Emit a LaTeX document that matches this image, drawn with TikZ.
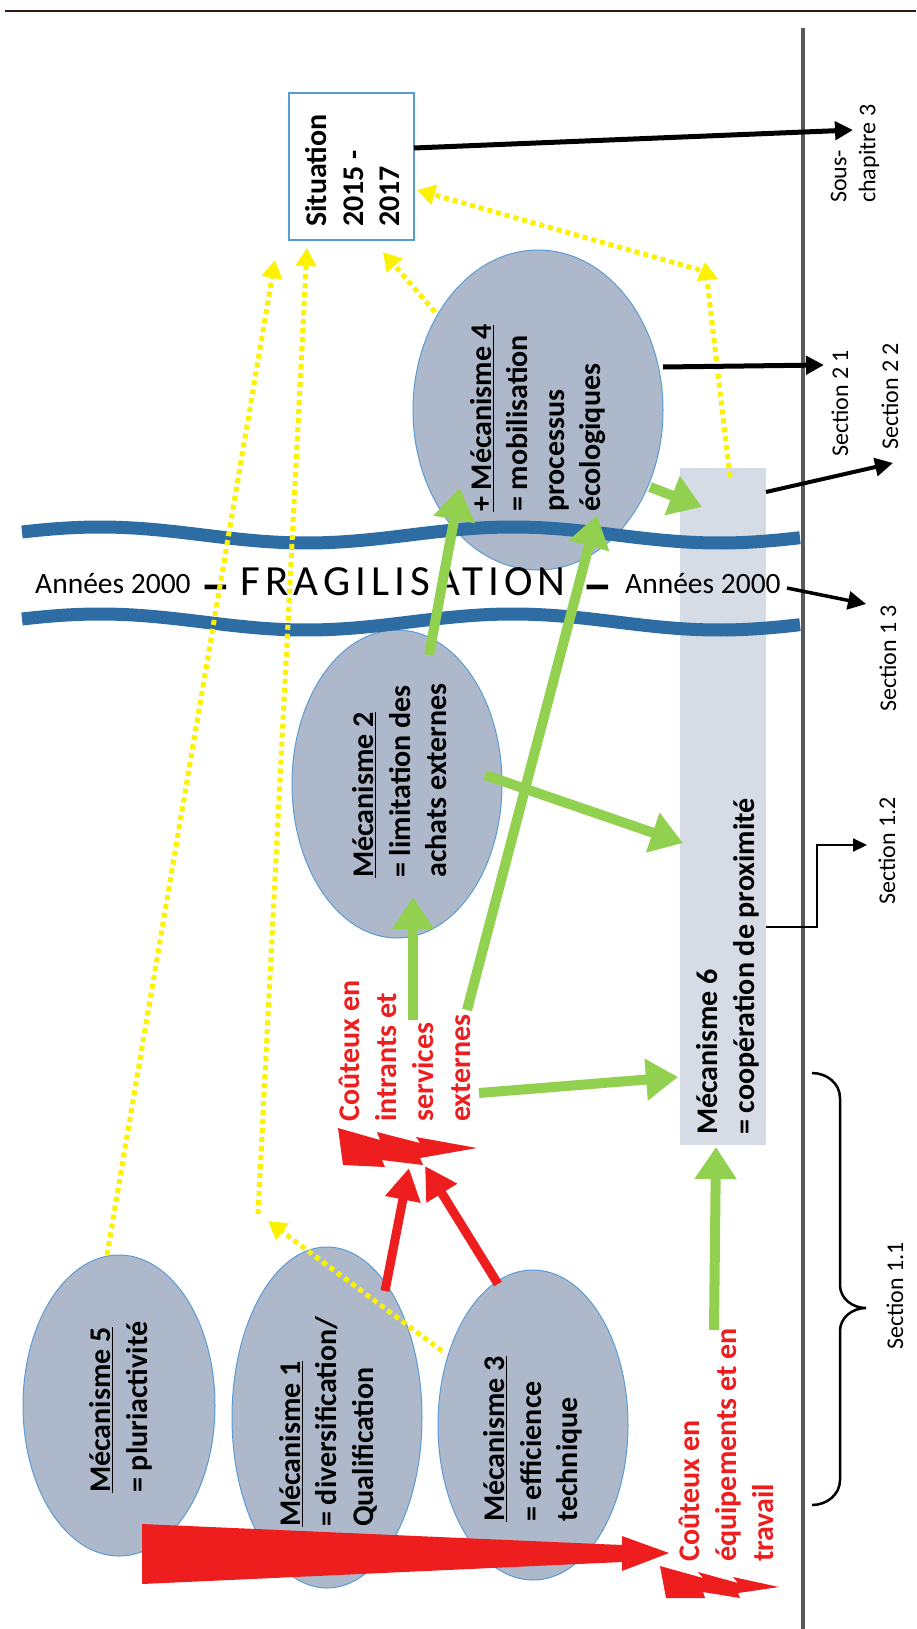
\documentclass[tikz,border=0pt]{standalone}
\usepackage{fontspec}
\setmainfont{Carlito}
\newfontfamily\fragfont[LetterSpace=12]{Carlito}
\usetikzlibrary{arrows.meta,shapes.geometric}
\definecolor{ellfill}{RGB}{173,185,202}
\definecolor{ellline}{RGB}{91,155,213}
\definecolor{boxfill}{RGB}{214,220,229}
\definecolor{wavec}{RGB}{46,108,164}
\definecolor{greenc}{RGB}{146,208,80}
\definecolor{redc}{RGB}{238,30,30}
\definecolor{yellowc}{RGB}{252,242,0}
\definecolor{greyc}{RGB}{89,89,89}
\definecolor{topc}{RGB}{55,22,15}
\begin{document}
\begin{tikzpicture}[x=1pt,y=-1pt,
  ell/.style={ellipse, draw=ellline, line width=1pt, fill=ellfill, inner sep=0pt},
  mtext/.style={rotate=90, anchor=west, align=left, inner sep=0pt, font=\bfseries\fontsize{30}{36.5}\selectfont},
  rtext/.style={rotate=90, anchor=west, align=left, inner sep=0pt, text=redc, font=\bfseries\fontsize{30}{37}\selectfont},
  sectlabel/.style={rotate=90, anchor=west, align=left, inner sep=0pt, font=\fontsize{24}{29}\selectfont},
  htext/.style={anchor=base west, inner sep=0pt, font=\fontsize{29.5}{36}\selectfont},
  garrow/.style={draw=greenc, line width=10pt, -{Triangle[length=32pt,width=40pt]}},
  rarrow/.style={draw=redc, line width=9pt, -{Triangle[length=32pt,width=34pt]}},
  yarrow/.style={draw=yellowc, line width=5pt, dash pattern=on 5pt off 4pt, -{Triangle[length=18pt,width=20pt]}},
  barrow/.style={draw=black, line width=#1, -{Triangle[length=18pt,width=18pt]}},
  wave/.style={draw=wavec, line width=13pt}
]
\useasboundingbox (0,0) rectangle (916,1629);
\fill[white] (0,0) rectangle (916,1629);

% frame lines
\draw[topc, line width=1.6pt] (5,11) -- (916,11);
\draw[greyc, line width=3.5pt] (803,28) -- (803,1629);

% boxes and ellipses
\node[fill=boxfill, minimum width=86pt, minimum height=677pt, inner sep=0pt] (b6) at (723,806.5) {};
\node[draw=ellline, line width=1.2pt, fill=white, minimum width=125pt, minimum height=147pt, inner sep=0pt] (sit) at (351.5,166.5) {};
\node[ell, minimum width=250pt, minimum height=320pt] (e4) at (538,410) {};
\node[ell, minimum width=210pt, minimum height=308pt] (e2) at (397,784) {};
\node[ell, minimum width=192pt, minimum height=301pt] (e5) at (119,1405.5) {};
\node[ell, minimum width=190pt, minimum height=341pt] (e1) at (327,1417.5) {};
\node[ell, minimum width=190pt, minimum height=310pt] (e3) at (533,1425) {};

% texts in shapes
\node[mtext] (tsit) at (353,227) {Situation\\2015 -\\2017};
\node[mtext] (t4) at (538,512) {\underline{+ Mécanisme 4}\\= mobilisation\\processus\\écologiques};
\node[mtext] (t2) at (400,878) {\underline{Mécanisme 2}\\= limitation des\\achats externes};
\node[mtext] (t5) at (121,1493) {\underline{Mécanisme 5}\\= pluriactivité};
\node[mtext] (t1) at (328,1527) {\underline{Mécanisme 1}\\= diversification/\\Qualification};
\node[mtext] (t3) at (533,1522) {\underline{Mécanisme 3}\\= efficience\\technique};
\node[mtext] (t6) at (728,1135) {Mécanisme 6\\= coopération de proximité};

% waves
\draw[wave] plot[domain=22:800,samples=120] (\x,{535-8*cos(0.8717*(\x-100))});
\draw[wave] plot[domain=22:800,samples=120] (\x,{622-8*cos(0.8717*(\x-100))});

% horizontal text
\node[htext] (an1) at (35,593) {Années 2000};
\node[htext, anchor=base] (d1) at (216,602) {\scalebox{1}[1.8]{\bfseries —}};
\node[htext, font=\fragfont\fontsize{43}{46}\selectfont] (frag) at (240,595) {FRAGILISATION};
\node[htext, anchor=base] (d2) at (598,602) {\scalebox{1}[1.8]{\bfseries —}};
\node[htext] (an2) at (625,593) {Années 2000};

% red shapes
\fill[redc] (142,1524) -- (622,1545) -- (622,1536) -- (669,1553) -- (622,1571) -- (622,1562) -- (142,1584) -- cycle;
\fill[redc] (338,1128) -- (380,1140) -- (377,1132) -- (420,1143) -- (416,1137) -- (477,1148) -- (420,1158) -- (423,1165) -- (382,1160) -- (385,1167) -- (343,1165) -- cycle;
\fill[redc] (660,1566) -- (703,1578) -- (698,1572) -- (738,1583) -- (733,1577) -- (779,1587) -- (738,1593) -- (740,1598) -- (703,1592) -- (705,1598) -- (666,1598) -- cycle;

% red texts
\node[rtext] (rc1) at (405,1122) {Coûteux en\\intrants et\\services\\externes};
\node[rtext] (rc2) at (726,1562) {Coûteux en\\équipements et en\\travail};

% section labels
\node[sectlabel] (lsc) at (855,203) {Sous-\\chapitre 3};
\node[sectlabel] (l21) at (840,457) {Section 2 1};
\node[sectlabel] (l22) at (890,450) {Section 2 2};
\node[sectlabel] (l13) at (888,712) {Section 1 3};
\node[sectlabel] (l12) at (887,905) {Section 1.2};
\node[sectlabel] (l11) at (895,1350) {Section 1.1};

% coordinates for connectors
\coordinate (rs1) at (385,1291); \coordinate (rt1) at (409,1168);
\coordinate (rs2) at (498,1284); \coordinate (rt2) at (425,1166);
\coordinate (ga1) at (413,1020); \coordinate (gb1) at (413,897);
\coordinate (ga2) at (467,1010); \coordinate (gb2) at (597,515);
\coordinate (ga3) at (429,655);  \coordinate (gb3) at (460,488);
\coordinate (ga4) at (485,775);  \coordinate (gb4) at (683,843);
\coordinate (ga5) at (479,1093); \coordinate (gb5) at (678,1077);
\coordinate (ga6) at (714,1330); \coordinate (gb6) at (716,1147);
\coordinate (ga7) at (650,487);  \coordinate (gb7) at (702,507);
\coordinate (ya1) at (107,1255); \coordinate (yb1) at (275,260);
\coordinate (ya2) at (442,1351); \coordinate (yc2) at (268,1221);
\coordinate (yd2) at (258,1214); \coordinate (yb2) at (307,248);
\coordinate (ya3) at (435,312);  \coordinate (yb3) at (383,252);
\coordinate (ya4) at (730,477);  \coordinate (yc4) at (705,262);
\coordinate (yd4) at (700,270);  \coordinate (yb4) at (417,190);
\coordinate (ksc1) at (414,148); \coordinate (ksc2) at (853,130);
\coordinate (k211) at (663,367); \coordinate (k212) at (824,365);
\coordinate (k221) at (766,492); \coordinate (k222) at (893,463);
\coordinate (k131) at (787,588); \coordinate (k132) at (866,604);
\coordinate (k121) at (766,927); \coordinate (k122) at (867,845);

% red arrows
\draw[rarrow] (rs1) -- (rt1);
\draw[rarrow] (rs2) -- (rt2);

% green arrows
\draw[garrow] (ga1) -- (gb1);
\draw[garrow] (ga2) -- (gb2);
\draw[garrow] (ga3) -- (gb3);
\draw[garrow] (ga4) -- (gb4);
\draw[garrow] (ga5) -- (gb5);
\draw[garrow] (ga6) -- (gb6);
\draw[garrow] (ga7) -- (gb7);

% yellow dotted arrows
\draw[yarrow] (ya1) -- (yb1);
\draw[yarrow] (ya2) -- (yc2);
\draw[yarrow] (yd2) -- (yb2);
\draw[yarrow] (ya3) -- (yb3);
\draw[yarrow] (ya4) -- (yc4);
\draw[yarrow] (yd4) -- (yb4);

% black arrows
\draw[barrow=5pt] (ksc1) -- (ksc2);
\draw[barrow=5pt] (k211) -- (k212);
\draw[barrow=4pt] (k221) -- (k222);
\draw[barrow=3.5pt] (k131) -- (k132);
\draw[draw=black, line width=2pt, -{Triangle[length=14pt,width=13pt]}] (k121) -| (817,845) -- (k122);

% brace
\draw[black, line width=2.5pt] (812,1073) to[out=0,in=90] (840,1098) -- (840,1285) to[out=-90,in=180] (866,1308)
  (812,1505) to[out=0,in=-90] (840,1480) -- (840,1331) to[out=90,in=180] (866,1308);
\end{tikzpicture}
\end{document}
